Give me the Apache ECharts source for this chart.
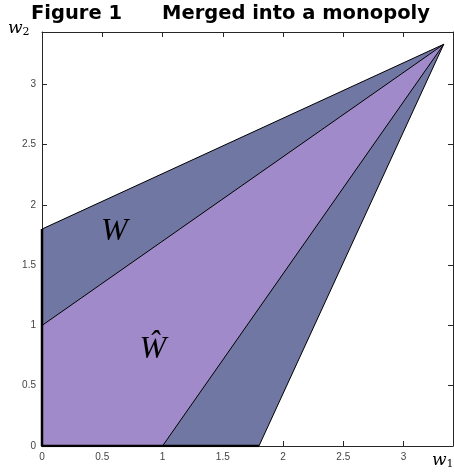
<!DOCTYPE html>
<html><head><meta charset="utf-8">
<script src="https://cdn.jsdelivr.net/npm/echarts@6/dist/echarts.min.js"></script>
<style>html,body{margin:0;padding:0;background:#fff}#c{width:454px;height:476px}</style>
</head><body><div id="c"></div>
<script>
const xMax = 3.41, yMax = 3.435;
const apex = [3.333, 3.333];
const outerW = [[0, 0], [1.8, 0], apex, [0, 1.8]];
const innerW = [[0, 0], [1, 0], apex, [0, 1]];
const boldEdge = [[0, 1.8], [0, 0], [1.8, 0]];
const regionLabels = [{ pos: [0.6, 1.78], text: 'W' }, { pos: [0.92, 0.8], text: 'Ŵ' }];
const tickStep = 0.5;

const chart = echarts.init(document.getElementById('c'), null, { renderer: 'canvas' });

function polyRender(points, fill) {
  return function (params, api) {
    if (params.dataIndex !== 0) return null;
    const pts = points.map(p => api.coord(p));
    return { type: 'polygon', shape: { points: pts }, style: { fill: fill, stroke: '#000', lineWidth: 1 } };
  };
}

const axisCommon = {
  type: 'value', min: 0, interval: tickStep,
  axisLine: { show: true, onZero: false, lineStyle: { color: '#262626', width: 1 } },
  axisTick: { show: true, inside: true, length: 5, lineStyle: { color: '#262626', width: 1 } },
  splitLine: { show: false },
  axisLabel: { show: true, color: '#444', fontSize: 10, fontFamily: 'Liberation Sans', showMaxLabel: false,
    formatter: v => (Math.abs(v / tickStep - Math.round(v / tickStep)) < 1e-6 ? String(+v.toFixed(2)) : '') }
};

const titleStyle = { fontFamily: 'DejaVu Sans', fontWeight: 'bold', fontSize: 19.5, color: '#000' };

chart.setOption({
  animation: false,
  title: [
    { text: 'Figure 1', left: 31, top: 4, padding: 0, textStyle: titleStyle },
    { text: 'Merged into a monopoly', left: 162, top: 4, padding: 0, textStyle: titleStyle }
  ],
  grid: { left: 42, right: 1, top: 32, bottom: 30, containLabel: false },
  xAxis: [
    Object.assign({}, axisCommon, { max: xMax, position: 'bottom', axisLabel: Object.assign({}, axisCommon.axisLabel, { margin: 6 }) }),
    Object.assign({}, axisCommon, { max: xMax, position: 'top', axisLabel: { show: false } })
  ],
  yAxis: [
    Object.assign({}, axisCommon, { max: yMax, position: 'left', axisLabel: Object.assign({}, axisCommon.axisLabel, { margin: 6 }) }),
    Object.assign({}, axisCommon, { max: yMax, position: 'right', axisLabel: { show: false } })
  ],
  graphic: [
    { type: 'text', left: 8, top: 20, style: { rich: { a: { fontFamily: 'DejaVu Serif', fontStyle: 'italic', fontSize: 17, fill: '#000' }, b: { fontFamily: 'DejaVu Serif', fontSize: 11, fill: '#000', padding: [8, 0, 0, 0] } }, text: '{a|w}{b|2}' } },
    { type: 'text', left: 432, top: 452, style: { rich: { a: { fontFamily: 'DejaVu Serif', fontStyle: 'italic', fontSize: 17, fill: '#000' }, b: { fontFamily: 'DejaVu Serif', fontSize: 11, fill: '#000', padding: [8, 0, 0, 0] } }, text: '{a|w}{b|1}' } }
  ],
  series: [
    { type: 'custom', data: outerW, renderItem: polyRender(outerW, '#7177a3'), z: 1, silent: true },
    { type: 'custom', data: innerW, renderItem: polyRender(innerW, '#a08ac9'), z: 2, silent: true },
    { type: 'line', data: boldEdge, symbol: 'none', lineStyle: { color: '#000', width: 2.5 }, z: 3, silent: true },
    { type: 'custom', data: regionLabels.map(d => d.pos), z: 4, silent: true,
      renderItem: function (params, api) {
        const p = api.coord(regionLabels[params.dataIndex].pos);
        return { type: 'text', x: p[0], y: p[1], style: { text: regionLabels[params.dataIndex].text, fontFamily: 'Liberation Serif', fontStyle: 'italic', fontSize: 32, fill: '#000', align: 'center', verticalAlign: 'middle' } };
      } }
  ]
});
</script></body></html>
